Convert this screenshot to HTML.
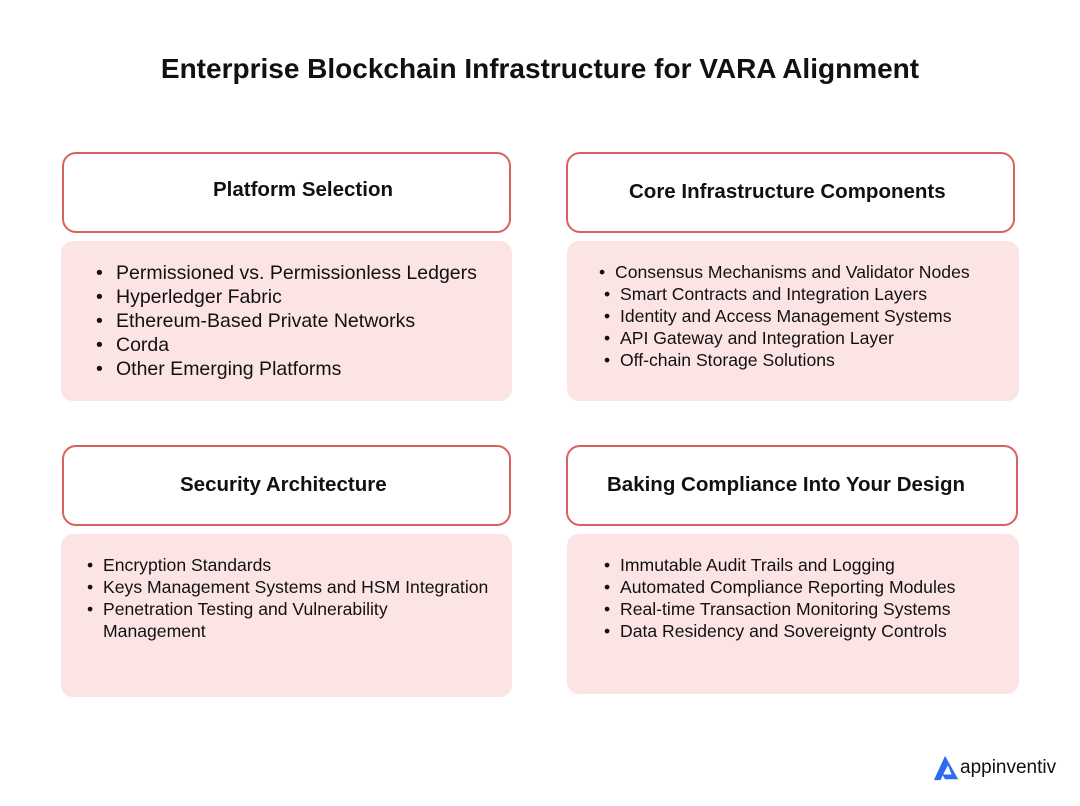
<!DOCTYPE html>
<html><head><meta charset="utf-8"><style>
body{margin:0;width:1080px;height:806px;background:#fff;font-family:"Liberation Sans",sans-serif;color:#111;position:relative;overflow:hidden}
.a{position:absolute;box-sizing:border-box}
.h{border:2px solid #d9625e;border-radius:14px;background:#fff}
.b{background:#fde4e4;border-radius:12px}
.t{position:absolute;font-weight:bold;font-size:20.5px;white-space:nowrap}
ul{position:absolute;margin:0;padding:0;list-style:none;white-space:nowrap}
li{position:relative}
li:before{content:"•";position:absolute}
.big li{font-size:19.5px;line-height:24px}
.sm li{font-size:17.6px;line-height:22px}
.big li:before{left:-20px}.sm li:before{left:-16px}
</style></head><body>
<div class="t" style="left:0;width:1080px;text-align:center;top:53px;font-size:28px">Enterprise Blockchain Infrastructure for VARA Alignment</div>

<div class="a h" style="left:62px;top:152px;width:449px;height:81px"></div>
<div class="t" style="left:213px;top:178px">Platform Selection</div>
<div class="a b" style="left:61px;top:241px;width:451px;height:160px"></div>
<ul class="big" style="left:116px;top:261px"><li>Permissioned vs. Permissionless Ledgers</li><li>Hyperledger Fabric</li><li>Ethereum-Based Private Networks</li><li>Corda</li><li>Other Emerging Platforms</li></ul>

<div class="a h" style="left:566px;top:152px;width:449px;height:81px"></div>
<div class="t" style="left:629px;top:180px">Core Infrastructure Components</div>
<div class="a b" style="left:567px;top:241px;width:452px;height:160px"></div>
<ul class="sm" style="left:620px;top:261px"><li style="left:-5px">Consensus Mechanisms and Validator Nodes</li><li>Smart Contracts and Integration Layers</li><li>Identity and Access Management Systems</li><li>API Gateway and Integration Layer</li><li>Off-chain Storage Solutions</li></ul>

<div class="a h" style="left:62px;top:445px;width:449px;height:81px"></div>
<div class="t" style="left:180px;top:473px">Security Architecture</div>
<div class="a b" style="left:61px;top:534px;width:451px;height:163px"></div>
<ul class="sm" style="left:103px;top:554px"><li>Encryption Standards</li><li>Keys Management Systems and HSM Integration</li><li>Penetration Testing and Vulnerability<br>Management</li></ul>

<div class="a h" style="left:566px;top:445px;width:452px;height:81px"></div>
<div class="t" style="left:607px;top:473px">Baking Compliance Into Your Design</div>
<div class="a b" style="left:567px;top:534px;width:452px;height:160px"></div>
<ul class="sm" style="left:620px;top:554px"><li>Immutable Audit Trails and Logging</li><li>Automated Compliance Reporting Modules</li><li>Real-time Transaction Monitoring Systems</li><li>Data Residency and Sovereignty Controls</li></ul>

<svg class="a" style="left:932px;top:754px" width="28" height="28" viewBox="0 0 30 30"><path d="M14 2 L2 28 L9 28 L17 12 L21 22 L11 22 L14 27 L28 27 Z" fill="#2f6bf0"/></svg>
<div class="a" style="left:960px;top:757px;font-size:19px;color:#111">appinventiv</div>
</body></html>
